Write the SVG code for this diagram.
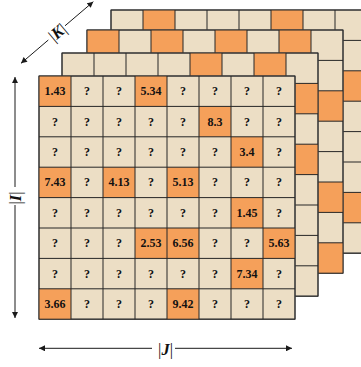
<svg xmlns="http://www.w3.org/2000/svg" xmlns:xlink="http://www.w3.org/1999/xlink" width="361" height="367" viewBox="0 0 361 367">
<style>
.bg{fill:#ECDEC5;stroke:#5a5a5a;stroke-width:1.2}
.o{fill:#F5A05A}
.grid{fill:none;stroke:#262626;stroke-width:1}
.v{font-family:"Liberation Serif","Times New Roman",serif;font-weight:bold;font-size:12px;text-anchor:middle;fill:#111}
.ax{stroke:#1a1a1a;stroke-width:1;fill:none}
.lbl{font-family:"Liberation Serif","Times New Roman",serif;font-size:16.5px;text-anchor:middle;fill:#111}
.it{font-style:italic;font-weight:bold}
</style>
<defs>
<marker id="ah" viewBox="0 0 10 10" refX="10" refY="5" markerWidth="7" markerHeight="6" markerUnits="userSpaceOnUse" orient="auto">
<path d="M0 0L10 5L0 10z" fill="#1a1a1a"/>
</marker>
<rect id="bgr" class="bg" x="0" y="0" width="256" height="243.2"/>
<path id="grid" class="grid" d="M0 0V243.2M32 0V243.2M64 0V243.2M96 0V243.2M128 0V243.2M160 0V243.2M192 0V243.2M224 0V243.2M256 0V243.2M0 0H256M0 30.4H256M0 60.8H256M0 91.2H256M0 121.6H256M0 152H256M0 182.4H256M0 212.8H256M0 243.2H256"/>
</defs>

<g id="layer3">
<use href="#bgr" x="111" y="10"/>
<rect class="o" x="143" y="10" width="32" height="30.4"/>
<rect class="o" x="271" y="10" width="32" height="30.4"/>
<rect class="o" x="335" y="70.8" width="32" height="30.4"/>
<rect class="o" x="335" y="192.4" width="32" height="30.4"/>
<use href="#grid" x="111" y="10"/>
</g>

<g id="layer2">
<use href="#bgr" x="87" y="30"/>
<rect class="o" x="87" y="30" width="32" height="30.4"/>
<rect class="o" x="151" y="30" width="32" height="30.4"/>
<rect class="o" x="215" y="30" width="32" height="30.4"/>
<rect class="o" x="279" y="30" width="32" height="30.4"/>
<rect class="o" x="311" y="90.8" width="32" height="30.4"/>
<rect class="o" x="311" y="182" width="32" height="30.4"/>
<rect class="o" x="311" y="242.8" width="32" height="30.4"/>
<use href="#grid" x="87" y="30"/>
</g>

<g id="layer1">
<use href="#bgr" x="62" y="53"/>
<rect class="o" x="190" y="53" width="32" height="30.4"/>
<rect class="o" x="254" y="53" width="32" height="30.4"/>
<rect class="o" x="286" y="83.4" width="32" height="30.4"/>
<rect class="o" x="286" y="144.2" width="32" height="30.4"/>
<use href="#grid" x="62" y="53"/>
</g>

<g id="front">
<use href="#bgr" x="39" y="76"/>
<rect class="o" x="39" y="76" width="32" height="30.4"/>
<rect class="o" x="135" y="76" width="32" height="30.4"/>
<rect class="o" x="199" y="106.4" width="32" height="30.4"/>
<rect class="o" x="231" y="136.8" width="32" height="30.4"/>
<rect class="o" x="39" y="167.2" width="32" height="30.4"/>
<rect class="o" x="103" y="167.2" width="32" height="30.4"/>
<rect class="o" x="167" y="167.2" width="32" height="30.4"/>
<rect class="o" x="231" y="197.6" width="32" height="30.4"/>
<rect class="o" x="135" y="228" width="32" height="30.4"/>
<rect class="o" x="167" y="228" width="32" height="30.4"/>
<rect class="o" x="263" y="228" width="32" height="30.4"/>
<rect class="o" x="231" y="258.4" width="32" height="30.4"/>
<rect class="o" x="39" y="288.8" width="32" height="30.4"/>
<rect class="o" x="167" y="288.8" width="32" height="30.4"/>
<use href="#grid" x="39" y="76"/>
<g class="v">
<text x="55" y="95.2">1.43</text><text x="87" y="95.2">?</text><text x="119" y="95.2">?</text><text x="151" y="95.2">5.34</text><text x="183" y="95.2">?</text><text x="215" y="95.2">?</text><text x="247" y="95.2">?</text><text x="279" y="95.2">?</text>
<text x="55" y="125.6">?</text><text x="87" y="125.6">?</text><text x="119" y="125.6">?</text><text x="151" y="125.6">?</text><text x="183" y="125.6">?</text><text x="215" y="125.6">8.3</text><text x="247" y="125.6">?</text><text x="279" y="125.6">?</text>
<text x="55" y="156">?</text><text x="87" y="156">?</text><text x="119" y="156">?</text><text x="151" y="156">?</text><text x="183" y="156">?</text><text x="215" y="156">?</text><text x="247" y="156">3.4</text><text x="279" y="156">?</text>
<text x="55" y="186.4">7.43</text><text x="87" y="186.4">?</text><text x="119" y="186.4">4.13</text><text x="151" y="186.4">?</text><text x="183" y="186.4">5.13</text><text x="215" y="186.4">?</text><text x="247" y="186.4">?</text><text x="279" y="186.4">?</text>
<text x="55" y="216.8">?</text><text x="87" y="216.8">?</text><text x="119" y="216.8">?</text><text x="151" y="216.8">?</text><text x="183" y="216.8">?</text><text x="215" y="216.8">?</text><text x="247" y="216.8">1.45</text><text x="279" y="216.8">?</text>
<text x="55" y="247.2">?</text><text x="87" y="247.2">?</text><text x="119" y="247.2">?</text><text x="151" y="247.2">2.53</text><text x="183" y="247.2">6.56</text><text x="215" y="247.2">?</text><text x="247" y="247.2">?</text><text x="279" y="247.2">5.63</text>
<text x="55" y="277.6">?</text><text x="87" y="277.6">?</text><text x="119" y="277.6">?</text><text x="151" y="277.6">?</text><text x="183" y="277.6">?</text><text x="215" y="277.6">?</text><text x="247" y="277.6">7.34</text><text x="279" y="277.6">?</text>
<text x="55" y="308">3.66</text><text x="87" y="308">?</text><text x="119" y="308">?</text><text x="151" y="308">?</text><text x="183" y="308">9.42</text><text x="215" y="308">?</text><text x="247" y="308">?</text><text x="279" y="308">?</text>
</g>
</g>

<g id="connectors">
<line class="ax" x1="15" y1="187" x2="15" y2="77" marker-end="url(#ah)"/>
<line class="ax" x1="15" y1="205" x2="15" y2="318" marker-end="url(#ah)"/>
<line class="ax" x1="152" y1="348.3" x2="39" y2="348.3" marker-end="url(#ah)"/>
<line class="ax" x1="175" y1="348.3" x2="292" y2="348.3" marker-end="url(#ah)"/>
<line class="ax" x1="48.3" y1="40" x2="21" y2="63.3" marker-end="url(#ah)"/>
<line class="ax" x1="65" y1="25.8" x2="93.3" y2="1.7" marker-end="url(#ah)"/>
</g>

<g id="labels">
<text class="lbl" transform="translate(21 198) rotate(-90)">|<tspan class="it">I</tspan>|</text>
<text class="lbl" x="165.5" y="354.5">|<tspan class="it">J</tspan>|</text>
<text class="lbl" transform="translate(61 36.5) rotate(-40)">|<tspan class="it">K</tspan>|</text>
</g>
</svg>
